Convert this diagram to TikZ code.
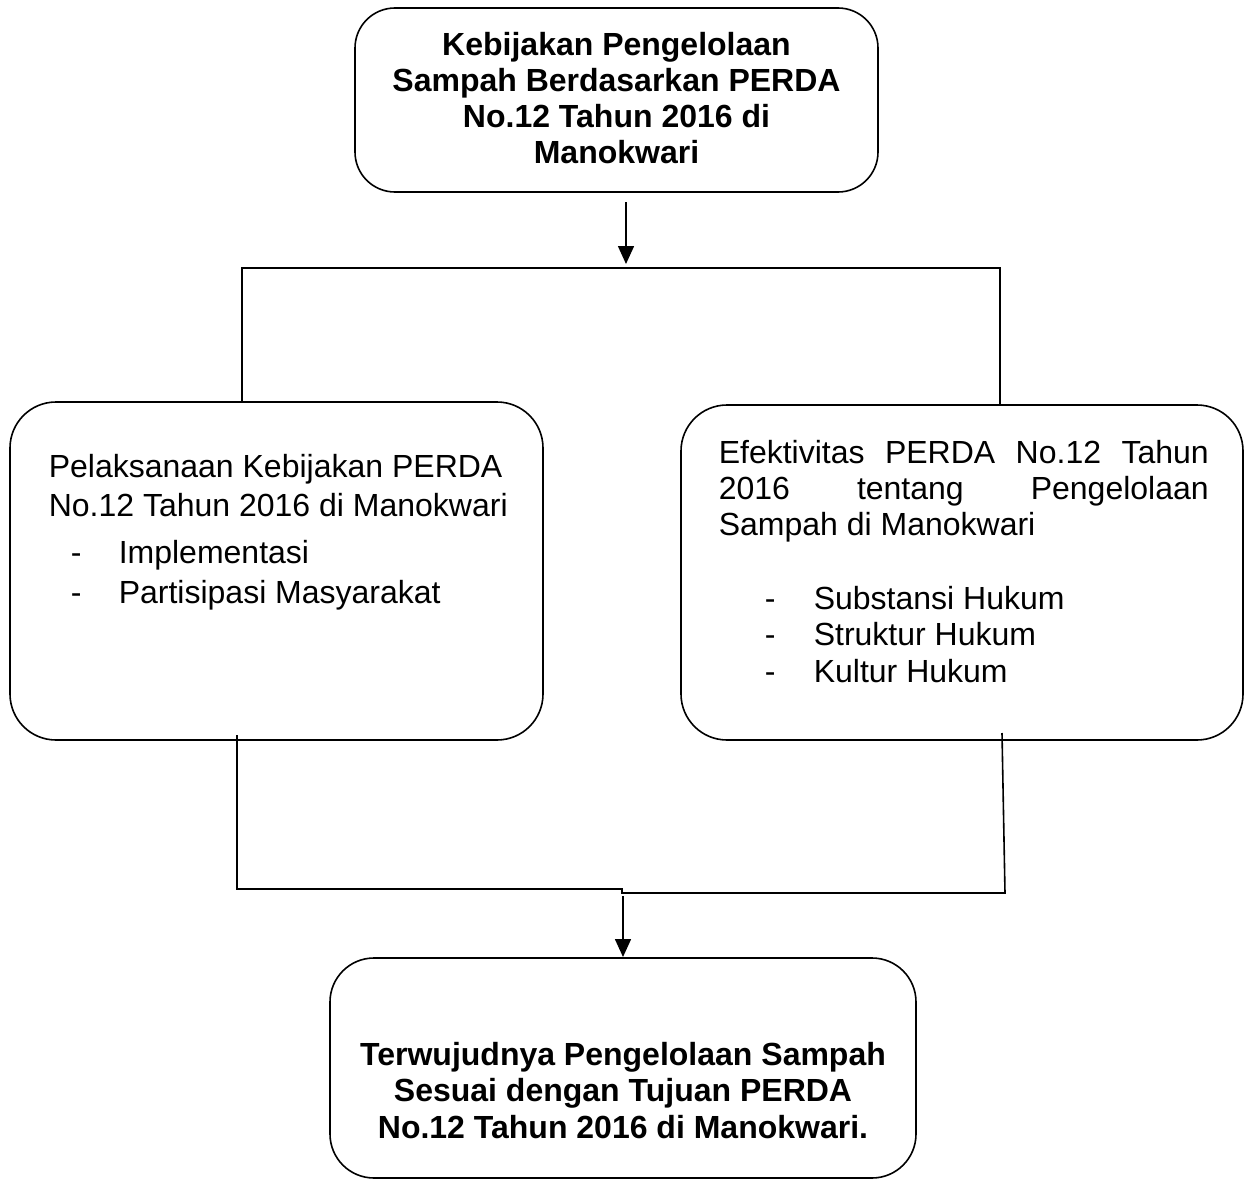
\documentclass[tikz,border=0pt]{standalone}
\usepackage{fontspec}
\setmainfont{Liberation Sans}
\usetikzlibrary{arrows.meta}
\begin{document}
\begin{tikzpicture}[x=1pt,y=-1pt,line width=1.6pt,
  box/.style={draw,inner sep=0pt},
  tb/.style={anchor=base,inner sep=0pt,font=\fontsize{32}{36}\selectfont\bfseries},
  tl/.style={anchor=base west,inner sep=0pt,font=\fontsize{32}{36}\selectfont},
  conn/.style={draw,line width=1.6pt},
  arr/.style={conn,-{Triangle[length=18pt,width=16pt]}}]
\useasboundingbox (0,0) rectangle (1248,1180);
% boxes
\node[box,rounded corners=40pt,minimum width=523pt,minimum height=184pt] (top) at (616.5,100) {};
\node[box,rounded corners=46pt,minimum width=533pt,minimum height=338pt] (left) at (276.5,571) {};
\node[box,rounded corners=46pt,minimum width=562pt,minimum height=335pt] (right) at (962,572.5) {};
\node[box,rounded corners=44pt,minimum width=586pt,minimum height=220pt] (bottom) at (623,1068) {};
% top text
\node[tb] (t1) at (616.5,56) {Kebijakan Pengelolaan};
\node[tb] (t2) at (616.5,92) {Sampah Berdasarkan PERDA};
\node[tb] (t3) at (616.5,128) {No.12 Tahun 2016 di};
\node[tb] (t4) at (616.5,164) {Manokwari};
% left text
\node[tl] (l1) at (48,477) {Pelaksanaan Kebijakan PERDA};
\node[tl] (l2) at (48,516) {No.12 Tahun 2016 di Manokwari};
\node[tl] (l3d) at (70,563) {-};
\node[tl] (l3) at (118,563) {Implementasi};
\node[tl] (l4d) at (70,603) {-};
\node[tl] (l4) at (118,603) {Partisipasi Masyarakat};
% right text
\node[tl] (r1) at (718,463) {\hbox to 490pt{Efektivitas\hfill PERDA\hfill No.12\hfill Tahun}};
\node[tl] (r2) at (718,499) {\hbox to 490pt{2016\hfill tentang\hfill Pengelolaan}};
\node[tl] (r3) at (718,535) {Sampah di Manokwari};
\node[tl] (r4d) at (764,609) {-};
\node[tl] (r4) at (813,609) {Substansi Hukum};
\node[tl] (r5d) at (764,645) {-};
\node[tl] (r5) at (813,645) {Struktur Hukum};
\node[tl] (r6d) at (764,682) {-};
\node[tl] (r6) at (813,682) {Kultur Hukum};
% bottom text
\node[tb] (b1) at (623,1065) {Terwujudnya Pengelolaan Sampah};
\node[tb] (b2) at (623,1101) {Sesuai dengan Tujuan PERDA};
\node[tb] (b3) at (623,1138) {No.12 Tahun 2016 di Manokwari.};
% connector coordinates
\coordinate (a1s) at (626,202);
\coordinate (a1e) at (626,264);
\coordinate (hL) at (242,268);
\coordinate (hR) at (1000,268);
\coordinate (lT) at (242,401);
\coordinate (rT) at (1000,404);
\coordinate (lB) at (237,735);
\coordinate (rB) at (1002,733);
\coordinate (jL) at (237,889);
\coordinate (jM1) at (622,889);
\coordinate (jM2) at (622,893);
\coordinate (jR) at (1005,893);
\coordinate (a2s) at (623,896);
\coordinate (a2e) at (623,957);
% connectors
\draw[arr] (a1s) -- (a1e);
\draw[conn] (lT) -- (hL) -- (hR) -- (rT);
\draw[conn] (lB) -- (jL) -- (jM1) -- (jM2) -- (jR) -- (rB);
\draw[arr] (a2s) -- (a2e);
\end{tikzpicture}
\end{document}
